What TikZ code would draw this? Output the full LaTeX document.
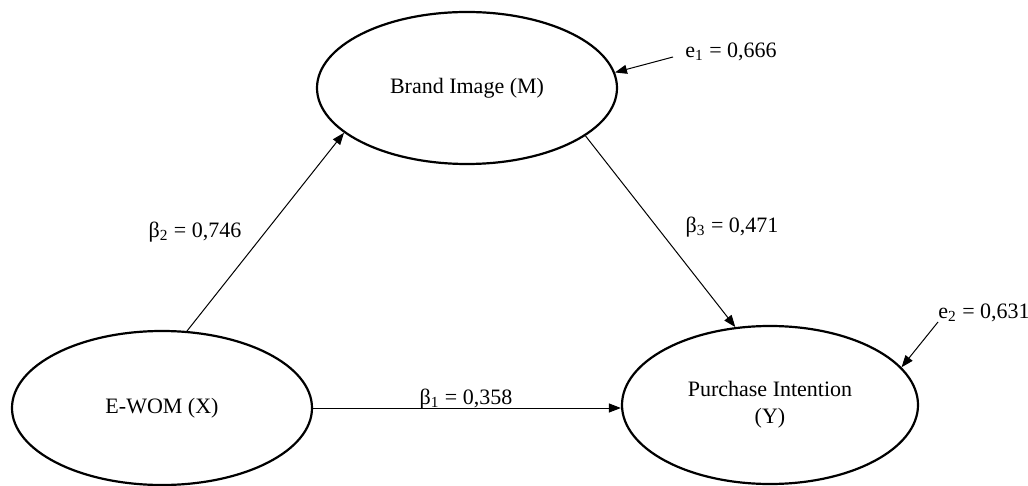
\documentclass[tikz,border=0pt]{standalone}
\usepackage{fontspec}
\setmainfont{Liberation Serif}
\usetikzlibrary{shapes.geometric,arrows.meta,positioning}

\begin{document}
\begin{tikzpicture}[x=0.5pt, y=-0.5pt,
      every node/.style={font=\fontsize{11}{13.5}\selectfont},
      latent/.style={ellipse, draw, line width=1.1pt, inner sep=0pt, align=center},
      link/.style={draw, line width=0.5pt, -{Triangle[length=6pt,width=4.5pt]}}
    ]
      \useasboundingbox (0,0) rectangle (1028,486);

      % Variables
      \node[latent, minimum width=150pt, minimum height=76pt] (bi) at (467,88) {Brand Image (M)};
      \node[latent, minimum width=150pt, minimum height=77pt] (ewom) at (162,408) {E-WOM (X)};
      \node[latent, minimum width=148pt, minimum height=79pt] (pi) at (770,405) {Purchase Intention\\(Y)};

      % Paths
      \draw[link] (ewom.72) -- (bi.200);
      \draw[link] (bi.-22) -- (pi.114);
      \draw[link] (ewom.east) -- (ewom.east -| pi.west);

      \node (b2) at (195,232) {β\textsubscript{2} = 0,746};
      \node (b3) at (732,227) {β\textsubscript{3} = 0,471};
      \node (b1) at (466,399) {β\textsubscript{1} = 0,358};

      % Errors
      \node (e1) at (731,52) {e\textsubscript{1} = 0,666};
      \node (e2) at (984,313) {e\textsubscript{2} = 0,631};
      \coordinate (e1t) at (673,57);
      \coordinate (e2t) at (938,322);
      \draw[link] (e1t) -- (bi.6);
      \draw[link] (e2t) -- (pi.16);
    \end{tikzpicture}
\end{document}
